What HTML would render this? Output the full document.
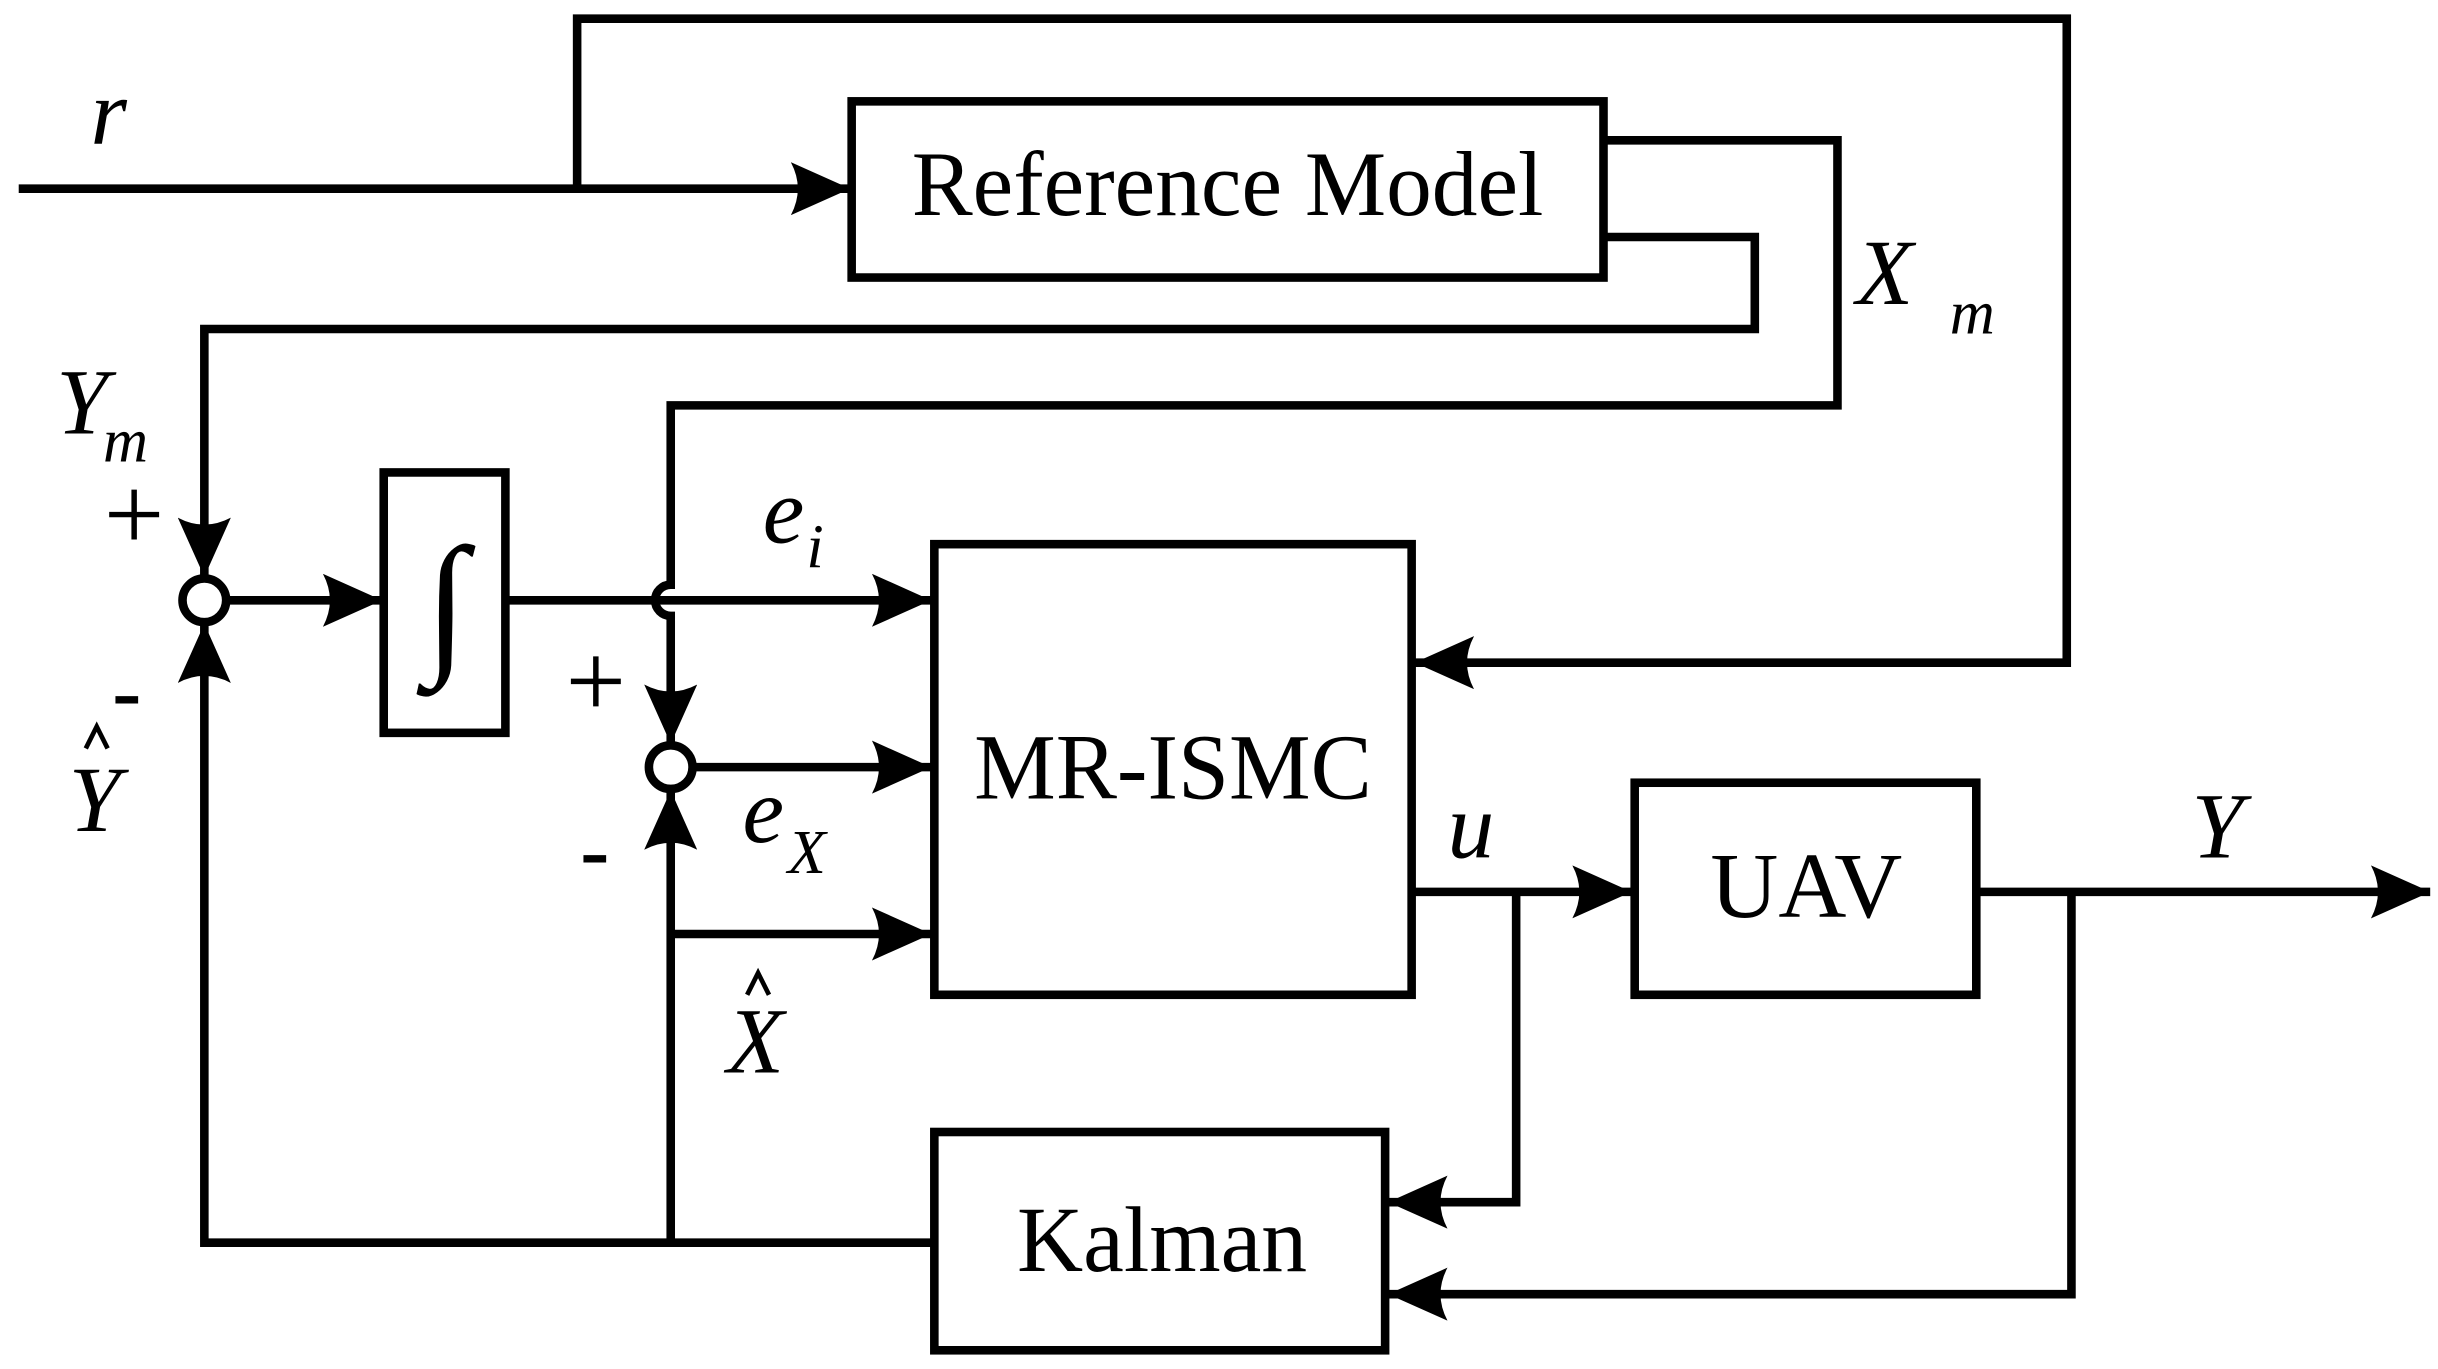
<!DOCTYPE html>
<html><head><meta charset="utf-8"><style>
html,body{margin:0;padding:0;background:#fff;}
svg{display:block;}
text{font-family:"Liberation Serif",serif;fill:#000;}
.i{font-style:italic;}
</style></head><body>
<svg width="2438" height="1369" viewBox="0 0 1563 878" preserveAspectRatio="none" xmlns="http://www.w3.org/2000/svg">
<defs>
<marker id="a" markerWidth="38" markerHeight="34" refX="38" refY="17" orient="auto" markerUnits="userSpaceOnUse">
<path d="M0,0 L38,17 L0,34 Q9,17 0,0 Z" fill="#000"/>
</marker>
</defs>
<g fill="none" stroke="#000" stroke-width="5.5">
<rect x="546" y="65" width="482" height="113"/>
<rect x="246" y="303" width="78" height="167"/>
<rect x="599" y="349" width="306" height="289"/>
<rect x="1048" y="502" width="219" height="136"/>
<rect x="599" y="726" width="289" height="140"/>
<circle cx="131" cy="385" r="14"/>
<circle cx="430" cy="492" r="14"/>
<path d="M12,121 H545" marker-end="url(#a)"/>
<path d="M370,121 V12 H1325 V425 H907" marker-end="url(#a)"/>
<path d="M1028,90 H1178 V260 H430 V375 A10,10 0 0 0 430,395 V477" marker-end="url(#a)"/>
<path d="M1028,152 H1125 V211 H131 V370" marker-end="url(#a)"/>
<path d="M145,385 H245" marker-end="url(#a)"/>
<path d="M324,385 H597" marker-end="url(#a)"/>
<path d="M444,492 H597" marker-end="url(#a)"/>
<path d="M430,797 V507" marker-end="url(#a)"/>
<path d="M430,599 H597" marker-end="url(#a)"/>
<path d="M599,797 H131 V400" marker-end="url(#a)"/>
<path d="M905,572 H1046" marker-end="url(#a)"/>
<path d="M972,572 V771 H890" marker-end="url(#a)"/>
<path d="M1267,572 H1558" marker-end="url(#a)"/>
<path d="M1328,572 V830 H890" marker-end="url(#a)"/>
</g>
<g stroke="#000" stroke-width="3.5" fill="none">
<path d="M70,330 H102 M86,314 V346"/>
<path d="M366,437 H398 M382,421 V453"/>
<path d="M55,480 L62,466 L69,480" stroke-width="3"/>
<path d="M479,638 L486,624 L493,638" stroke-width="3"/>
</g>
<g>
<text x="787" y="138" font-size="59" text-anchor="middle" textLength="405" lengthAdjust="spacingAndGlyphs">Reference Model</text>
<text x="752" y="512" font-size="60" text-anchor="middle" textLength="255" lengthAdjust="spacingAndGlyphs">MR-ISMC</text>
<text x="1158" y="588" font-size="60" text-anchor="middle" textLength="123" lengthAdjust="spacingAndGlyphs">UAV</text>
<text x="745" y="815" font-size="60" text-anchor="middle" textLength="186" lengthAdjust="spacingAndGlyphs">Kalman</text>
<text x="286" y="420" font-size="100" text-anchor="middle" class="i">∫</text>
<text x="58" y="92" font-size="60" class="i">r</text>
<text x="1190" y="195" font-size="60" class="i">X</text>
<text x="1250" y="214" font-size="40" class="i">m</text>
<text x="36" y="278" font-size="60" class="i">Y</text>
<text x="66" y="296" font-size="40" class="i">m</text>
<text x="72" y="462" font-size="56" font-weight="bold">-</text>
<text x="44" y="533" font-size="60" class="i">Y</text>
<text x="489" y="348" font-size="60" class="i">e</text>
<text x="517" y="364" font-size="40" class="i">i</text>
<text x="372" y="564" font-size="56" font-weight="bold">-</text>
<text x="476" y="540" font-size="60" class="i">e</text>
<text x="505" y="560" font-size="40" class="i">X</text>
<text x="466" y="688" font-size="60" class="i">X</text>
<text x="928" y="550" font-size="60" class="i">u</text>
<text x="1405" y="550" font-size="60" class="i">Y</text>
</g>
</svg>
</body></html>
